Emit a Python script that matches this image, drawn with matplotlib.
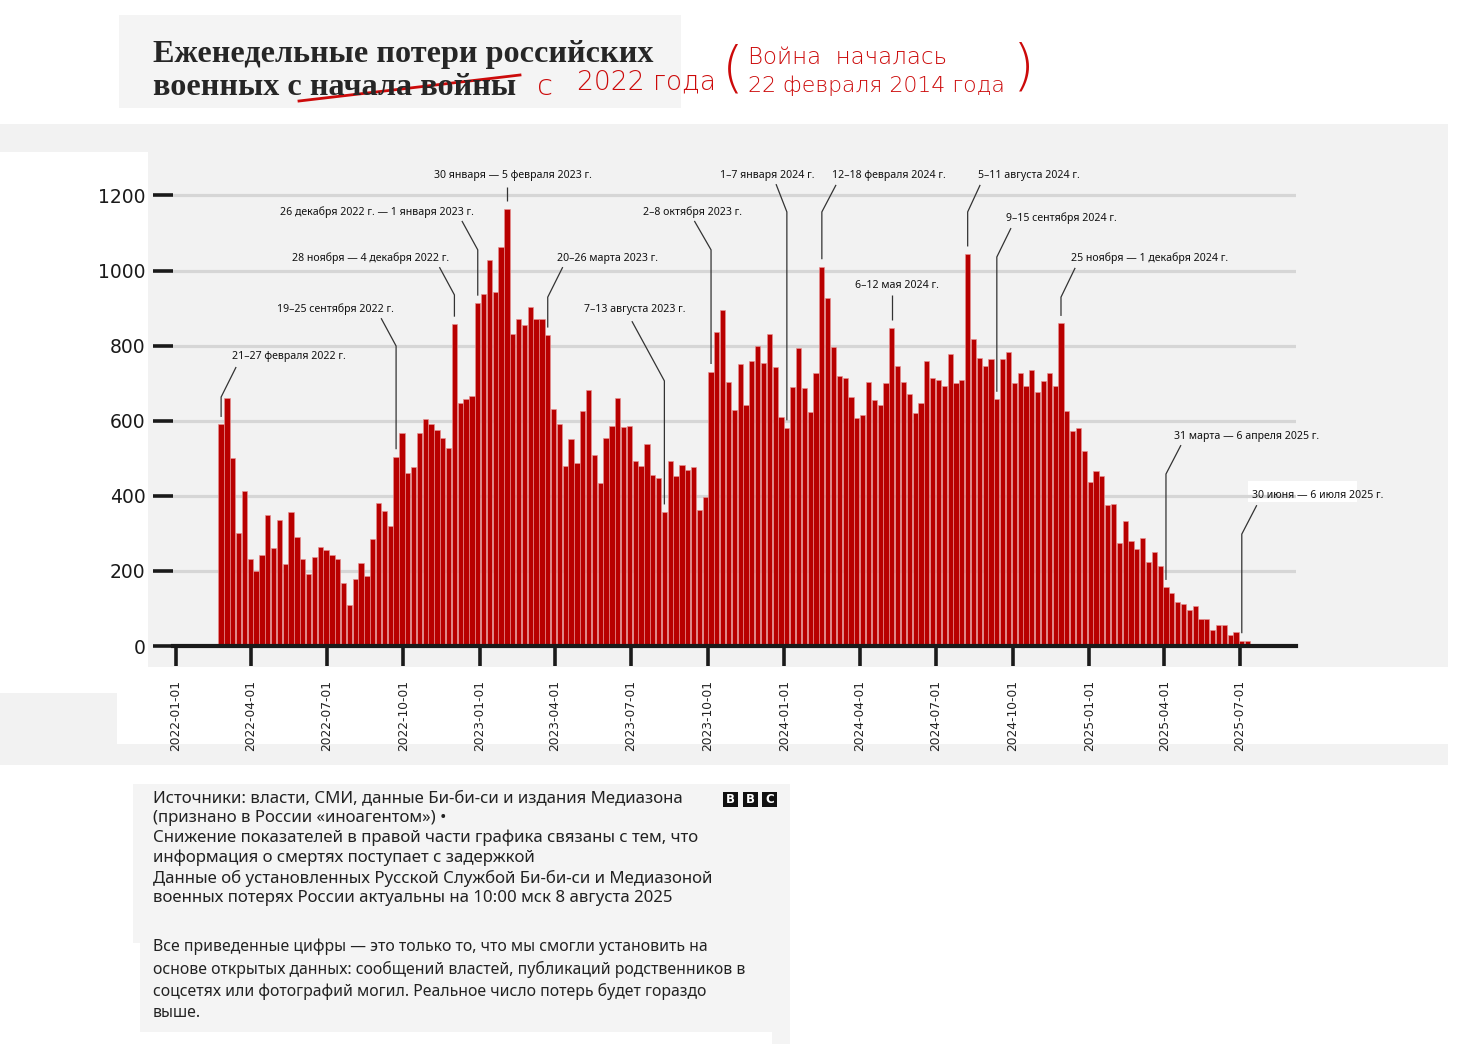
import numpy as np
import pandas as pd
import matplotlib
matplotlib.use("Agg")
import matplotlib.pyplot as plt
import matplotlib.dates as mdates
from matplotlib.patches import Rectangle
from matplotlib.lines import Line2D

# ---------------- data ----------------
first_week = "2022-02-21"
weekly_losses = [
    590, 660, 500, 302, 414, 233, 200, 242, 349, 260,
    336, 218, 356, 290, 231, 192, 236, 264, 255, 242,
    231, 167, 108, 179, 220, 187, 285, 380, 360, 320,
    504, 568, 462, 478, 568, 605, 591, 575, 553, 526,
    857, 648, 657, 665, 913, 937, 1027, 944, 1063, 1164,
    831, 871, 856, 903, 870, 870, 828, 630, 591, 479,
    550, 488, 625, 682, 509, 435, 555, 587, 660, 583,
    587, 493, 479, 538, 455, 448, 357, 492, 454, 481,
    470, 478, 361, 396, 731, 837, 895, 703, 628, 751,
    642, 758, 798, 754, 832, 742, 610, 581, 689, 793,
    686, 622, 726, 1010, 927, 797, 718, 714, 663, 608,
    616, 704, 654, 641, 700, 847, 747, 704, 671, 620,
    646, 760, 715, 708, 692, 778, 701, 709, 1044, 818,
    767, 745, 763, 657, 763, 784, 700, 728, 692, 734,
    676, 706, 727, 692, 859, 625, 573, 581, 518, 437,
    466, 452, 375, 377, 273, 332, 280, 257, 287, 224,
    250, 213, 156, 140, 118, 112, 95, 107, 71, 72,
    43, 55, 55, 28, 38, 14, 13, 4,
]
week_starts = pd.date_range(first_week, periods=len(weekly_losses), freq="7D")

y_ticks = [0, 200, 400, 600, 800, 1000, 1200]
x_tick_labels = ["2022-01-01", "2022-04-01", "2022-07-01", "2022-10-01",
                 "2023-01-01", "2023-04-01", "2023-07-01", "2023-10-01",
                 "2024-01-01", "2024-04-01", "2024-07-01", "2024-10-01",
                 "2025-01-01", "2025-04-01", "2025-07-01"]

# (label, week index, label dx [days], label y, line start dx [days], line start y, elbow y)
annotations = [
    ("21–27 февраля 2022 г.", 0, 81, 770, 18, 743, 663),
    ("19–25 сентября 2022 г.", 30, -73, 897, -18, 873, 799),
    ("28 ноября — 4 декабря 2022 г.", 40, -101, 1033, -18, 1009, 935),
    ("26 декабря 2022 г. — 1 января 2023 г.", 44, -121, 1156, -19, 1132, 1055),
    ("30 января — 5 февраля 2023 г.", 49, 7, 1254, 0, 1222, 1222),
    ("20–26 марта 2023 г.", 56, 72, 1033, 18, 1009, 929),
    ("7–13 августа 2023 г.", 76, -36, 897, -39, 865, 706),
    ("2–8 октября 2023 г.", 84, -22, 1156, -20, 1132, 1055),
    ("1–7 января 2024 г.", 97, -24, 1254, -13, 1230, 1156),
    ("12–18 февраля 2024 г.", 103, 80, 1254, 17, 1228, 1156),
    ("6–12 мая 2024 г.", 115, 6, 961, 0, 935, 935),
    ("5–11 августа 2024 г.", 128, 73, 1254, 15, 1228, 1156),
    ("9–15 сентября 2024 г.", 133, 78, 1140, 17, 1113, 1036),
    ("25 ноября — 1 декабря 2024 г.", 144, 106, 1033, 17, 1007, 929),
    ("31 марта — 6 апреля 2025 г.", 162, 97, 557, 18, 535, 458),
    ("30 июня — 6 июля 2025 г.", 175, 91, 402, 18, 375, 298),
]

title_lines = ["Еженедельные потери российских", "военных с начала войны"]
footer_lines_1 = [
    "Источники: власти, СМИ, данные Би-би-си и издания Медиазона",
    "(признано в России «иноагентом») •",
    "Снижение показателей в правой части графика связаны с тем, что",
    "информация о смертях поступает с задержкой",
    "Данные об установленных Русской Службой Би-би-си и Медиазоной",
    "военных потерях России актуальны на 10:00 мск 8 августа 2025",
]
footer_lines_2 = [
    "Все приведенные цифры — это только то, что мы смогли установить на",
    "основе открытых данных: сообщений властей, публикаций родственников в",
    "соцсетях или фотографий могил. Реальное число потерь будет гораздо",
    "выше.",
]

# ---------------- figure ----------------
W, H = 1476, 1044
fig = plt.figure(figsize=(W / 100, H / 100), dpi=100)
fig.patch.set_facecolor("white")

GRAY = "#f2f2f2"


def fx(x):
    return x / W


def fy(y):
    return 1 - y / H


def rect(x, y, w, h, color=GRAY, z=-5):
    fig.add_artist(Rectangle((fx(x), fy(y + h)), w / W, h / H,
                             transform=fig.transFigure, facecolor=color,
                             edgecolor="none", zorder=z))


# background panels
rect(119, 15, 562, 93, "#f4f4f4")
rect(0, 124, 1448, 28)
rect(148, 152, 1300, 515)
rect(0, 693, 117, 72)
rect(0, 744, 1448, 21)
rect(133, 784, 657, 159, "#f4f4f4")
rect(140, 943, 632, 89, "#f4f4f4")
rect(772, 943, 18, 101, "#f4f4f4")
rect(1248, 481, 109, 21, "white", z=-4)

# axes
ax = fig.add_axes([fx(173), fy(646), (1296 - 173) / W, (646 - 152) / H])
ax.set_facecolor("none")
ax.patch.set_alpha(0)

px_per_day = (1240 - 176) / 1277.0
x0 = mdates.date2num(pd.Timestamp("2022-01-01"))
x1 = mdates.date2num(pd.Timestamp("2025-07-01"))
ax.set_xlim(x0 - 3 / px_per_day, x1 + 56 / px_per_day)
ax.set_ylim(0, (646 - 152) / 0.3755)

bar_w = 6.3
xnum = mdates.date2num(week_starts)
ax.bar(xnum, weekly_losses, width=bar_w, align="edge", color="#b80000",
       edgecolor="#e89090", linewidth=0.45, zorder=3)

ax.set_axisbelow(True)
ax.yaxis.grid(True, color="#d6d6d6", linewidth=2.3, zorder=1)
ax.xaxis.grid(False)

for s in ("left", "top", "right"):
    ax.spines[s].set_visible(False)
ax.spines["bottom"].set_color("#1a1a1a")
ax.spines["bottom"].set_linewidth(3.0)
ax.spines["bottom"].set_zorder(4)

ax.set_yticks(y_ticks)
ax.set_yticklabels([str(v) for v in y_ticks], fontsize=13.5,
                   fontfamily="DejaVu Sans", color="#1a1a1a")
ax.tick_params(axis="y", length=14.4, width=2.6, color="#1a1a1a", pad=5.5)
ax.yaxis.get_major_ticks()[0].tick1line.set_color("#9a9a9a")

tick_pos = mdates.date2num(pd.to_datetime(x_tick_labels))
ax.set_xticks(tick_pos)
ax.set_xticklabels(x_tick_labels, rotation=90, fontsize=8.8,
                   fontfamily="DejaVu Sans", color="#222222")
ax.tick_params(axis="x", length=14.4, width=2.6, color="#1a1a1a", pad=10)

# annotations
for text, idx, ldx, ly, sdx, sy, ey in annotations:
    cx = xnum[idx] + bar_w / 2
    ax.text(cx + ldx, ly, text, ha="center", va="center", fontsize=7.6,
            fontfamily="Noto Sans", color="#111111", zorder=6)
    ax.plot([cx + sdx, cx, cx], [sy, ey, weekly_losses[idx] + 20],
            color="#333333", lw=0.9, zorder=5, solid_capstyle="butt")

# title
fig.text(fx(153), fy(62), title_lines[0], fontsize=23.2, fontweight="bold",
         fontfamily="Liberation Serif", color="#262626", va="baseline")
fig.text(fx(153), fy(95), title_lines[1], fontsize=23.2, fontweight="bold",
         fontfamily="Liberation Serif", color="#262626", va="baseline")

# hand-written red corrections
RED = "#cc0a0a"
fig.add_artist(Line2D([fx(299), fx(410), fx(520)], [fy(101), fy(88), fy(75)],
                      transform=fig.transFigure, color=RED, lw=2.0))
fig.text(fx(545), fy(87), "с", fontsize=21, color=RED, ha="center", va="center",
         fontfamily="DejaVu Sans", fontweight="light")
fig.text(fx(577), fy(82), "2022 года", fontsize=19, color=RED, ha="left", va="center",
         fontfamily="DejaVu Sans", fontweight="light")
fig.text(fx(733), fy(71), "(", fontsize=40, color=RED, ha="center", va="center",
         fontfamily="DejaVu Sans", fontweight="light")
fig.text(fx(1024), fy(69), ")", fontsize=40, color=RED, ha="center", va="center",
         fontfamily="DejaVu Sans", fontweight="light")
fig.text(fx(748), fy(57), "Война  началась", fontsize=16.5, color=RED, ha="left",
         va="center", fontfamily="DejaVu Sans", fontweight="light")
fig.text(fx(748), fy(86), "22 февраля 2014 года", fontsize=15.8, color=RED, ha="left",
         va="center", fontfamily="DejaVu Sans", fontweight="light")

# footer
for i, line in enumerate(footer_lines_1):
    fig.text(fx(153), fy(798 + 20 * i), line, fontsize=12.1, fontfamily="Noto Sans",
             color="#222222", va="center")
for i, line in enumerate(footer_lines_2):
    fig.text(fx(153), fy(947 + 22 * i), line, fontsize=11.4, fontfamily="Noto Sans",
             color="#222222", va="center")

# BBC blocks
for i, letter in enumerate("BBC"):
    bx = 723 + 19.5 * i
    rect(bx, 792, 15, 15, "#111111", z=2)
    fig.text(fx(bx + 7.5), fy(799.5), letter, fontsize=8.5, fontweight="bold",
             color="white", ha="center", va="center", fontfamily="DejaVu Sans")

fig.savefig("out.png", dpi=100)
